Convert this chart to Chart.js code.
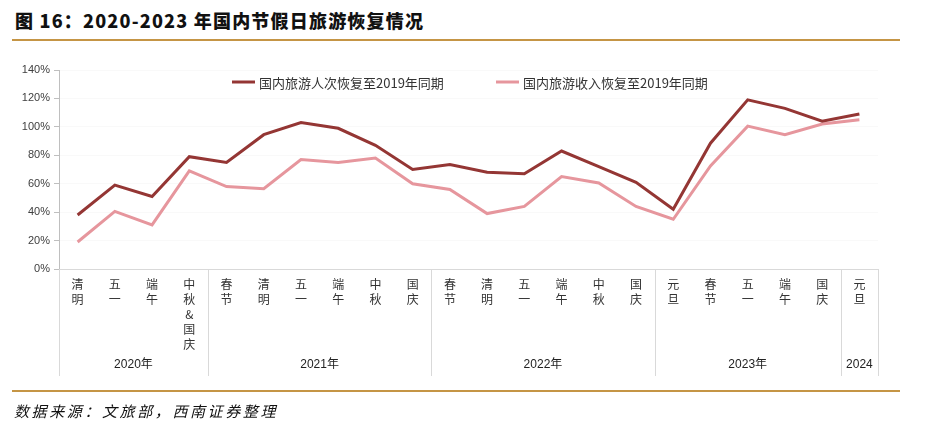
<!DOCTYPE html>
<html>
<head>
<meta charset="utf-8">
<script src="https://cdn.jsdelivr.net/npm/chart.js@4.4.1/dist/chart.umd.min.js"></script>
<style>
  html, body { margin: 0; padding: 0; background: #fff; }
  #wrap { position: relative; width: 925px; height: 441px; overflow: hidden; }
  #c { position: absolute; left: 0; top: 0; }
  #title { position: absolute; left: 15px; top: 7px; font-family: "Noto Sans CJK SC", "Noto Sans", sans-serif; font-weight: 900; font-size: 18px; color: #111; white-space: nowrap; letter-spacing: 1.2px; }
  .rule { position: absolute; left: 12px; width: 888px; height: 2px; background: #C59545; }
  #source { position: absolute; left: 14px; top: 400px; font-family: "Noto Sans CJK SC", sans-serif; font-style: italic; font-size: 15px; color: #111; white-space: nowrap; letter-spacing: 2.6px; }
</style>
</head>
<body>
<div id="wrap">
  <div id="title">图 16：2020-2023 年国内节假日旅游恢复情况</div>
  <div class="rule" style="top:39px"></div>
  <canvas id="c" width="925" height="441"></canvas>
  <div class="rule" style="top:390px"></div>
  <div id="source">数据来源：文旅部，西南证券整理</div>
</div>
<script>
// ---- data ----
const holidays = ['清明','五一','端午','中秋&国庆',
                  '春节','清明','五一','端午','中秋','国庆',
                  '春节','清明','五一','端午','中秋','国庆',
                  '元旦','春节','五一','端午','国庆',
                  '元旦'];
const yearLabels = ['2020年','2021年','2022年','2023年','2024'];
const yearCounts = [4, 6, 6, 5, 1];
const tripsRecovery = [38, 59, 51, 79, 75, 94.5, 103, 99, 87, 70, 73.5, 68, 67, 83, 72, 61, 42, 88.5, 119, 113, 104, 109];
const revenueRecovery = [19, 40.5, 31, 69, 58, 56.5, 77, 75, 78, 60, 56, 39, 44, 65, 60.5, 44, 35, 72.5, 100.5, 94.5, 102, 105];
const seriesNames = ['国内旅游人次恢复至2019年同期', '国内旅游收入恢复至2019年同期'];
const yTicks = [0, 20, 40, 60, 80, 100, 120, 140];

const labels = holidays.map(h => h.split(''));

const groupPlugin = {
  id: 'groups',
  afterDraw(chart) {
    const ctx = chart.ctx;
    const xs = chart.scales.x;
    const half = (xs.getPixelForValue(1) - xs.getPixelForValue(0)) / 2;
    const top = xs.top;
    const bottom = 376;
    ctx.save();
    ctx.strokeStyle = '#D9D9D9';
    ctx.lineWidth = 1;
    let idx = 0;
    const bounds = [xs.getPixelForValue(0) - half];
    yearCounts.forEach(n => { idx += n; bounds.push(xs.getPixelForValue(idx - 1) + half); });
    bounds.forEach(b => {
      const xb = Math.round(b) + 0.5;
      ctx.beginPath(); ctx.moveTo(xb, top); ctx.lineTo(xb, bottom); ctx.stroke();
    });
    ctx.fillStyle = '#222';
    ctx.font = '12px "Liberation Sans", Arial, "Noto Sans CJK SC", sans-serif';
    ctx.textAlign = 'center';
    ctx.textBaseline = 'middle';
    yearLabels.forEach((lab, i) => {
      ctx.fillText(lab, (bounds[i] + bounds[i + 1]) / 2, 365);
    });
    const items = [{x: 232}, {x: 496}];
    ctx.font = '13px "Noto Sans CJK SC", sans-serif';
    ctx.textAlign = 'left';
    chart.data.datasets.forEach((ds, i) => {
      const lx = items[i].x, ly = 82;
      ctx.strokeStyle = ds.borderColor;
      ctx.lineWidth = 3;
      ctx.beginPath(); ctx.moveTo(lx, ly); ctx.lineTo(lx + 23, ly); ctx.stroke();
      ctx.fillStyle = '#333';
      ctx.fillText(ds.label, lx + 27, ly + 1);
    });
    ctx.restore();
  }
};

new Chart(document.getElementById('c'), {
  type: 'line',
  data: {
    labels: labels,
    datasets: [
      { label: seriesNames[0], data: tripsRecovery, borderColor: '#943634', borderWidth: 3, pointRadius: 0, tension: 0, fill: false },
      { label: seriesNames[1], data: revenueRecovery, borderColor: '#E6969D', borderWidth: 3, pointRadius: 0, tension: 0, fill: false }
    ]
  },
  options: {
    responsive: false,
    animation: false,
    devicePixelRatio: 1,
    layout: { padding: { top: 70, left: 0, right: 47, bottom: 0 } },
    plugins: { legend: { display: false }, tooltip: { enabled: false }, title: { display: false } },
    scales: {
      x: {
        type: 'category',
        offset: true,
        afterFit(s) { s.height = 172; },
        grid: { display: false, drawTicks: false },
        border: { display: true, color: '#D9D9D9', width: 1 },
        ticks: {
          autoSkip: false, maxRotation: 0, minRotation: 0, padding: 8,
          color: '#333',
          font: { family: '"Noto Sans CJK SC", sans-serif', size: 12, lineHeight: 1.25 }
        }
      },
      y: {
        min: 0, max: 140,
        afterFit(s) { s.width = 59; },
        afterBuildTicks(s) { s.ticks = yTicks.map(v => ({ value: v })); },
        grid: { drawOnChartArea: true, color: 'rgba(0,0,0,0.025)', tickLength: 5, tickColor: '#BFBFBF' },
        border: { display: true, color: '#BFBFBF', width: 1 },
        ticks: {
          padding: 4, color: '#404040',
          font: { family: '"Liberation Sans", Arial, sans-serif', size: 11 },
          callback: v => v + '%'
        }
      }
    }
  },
  plugins: [groupPlugin]
});
</script>
</body>
</html>
